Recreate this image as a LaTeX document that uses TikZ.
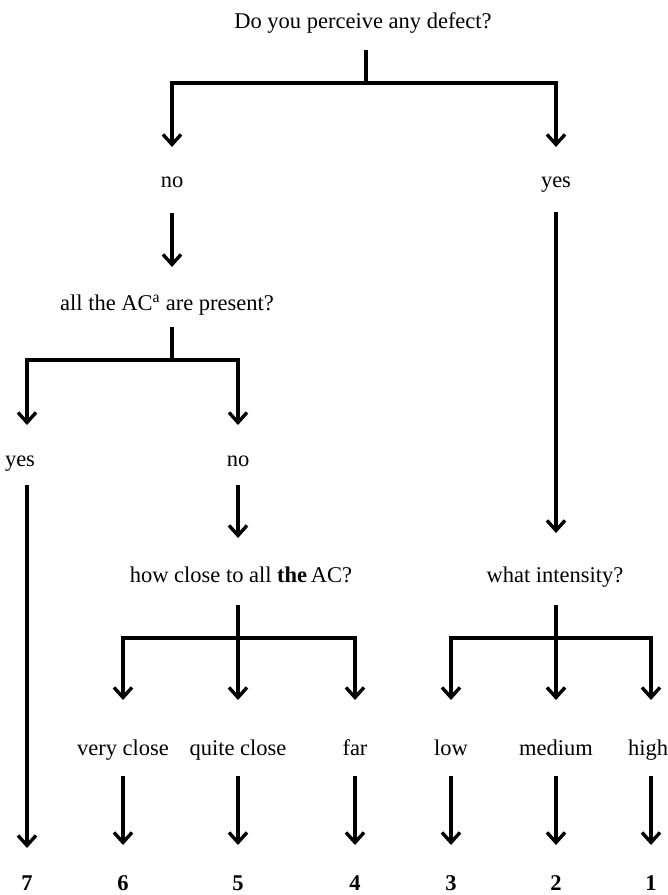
\documentclass[tikz,border=0pt]{standalone}
\usepackage{fontspec}
\setmainfont{Liberation Serif}
\usetikzlibrary{arrows.meta}
\begin{document}
\begin{tikzpicture}[x=1pt,y=-1pt,
  lbl/.style={font=\fontsize{22.5}{26}\selectfont, anchor=base, inner sep=0pt},
  num/.style={font=\fontsize{22.5}{26}\selectfont\bfseries, anchor=base, inner sep=0pt},
  conn/.style={line width=3.4pt, line join=miter},
  arr/.style={conn, -{Straight Barb[length=10pt,width=18pt,line width=3.4pt]}}]
\useasboundingbox (0,0) rectangle (668,895);

% ---- text nodes
\node[lbl] (q1) at (363,28) {Do you perceive any defect?};
\node[lbl] (no1) at (172,187) {no};
\node[lbl] (yes1) at (556,187) {yes};
\node[lbl] (q2) at (167,310) {all the AC\textsuperscript{a} are present?};
\node[lbl] (yes2) at (20,466) {yes};
\node[lbl] (no2) at (238,466) {no};
\node[lbl] (q3) at (241,582) {how close to all \textbf{the}\,AC?};
\node[lbl] (q4) at (555,582) {what intensity?};
\node[lbl] (vc) at (123,755) {very close};
\node[lbl] (qc) at (238,755) {quite close};
\node[lbl] (far) at (355,755) {far};
\node[lbl] (low) at (451,755) {low};
\node[lbl] (med) at (556,755) {medium};
\node[lbl] (high) at (648,755) {high};
\node[num] (n7) at (27,890) {7};
\node[num] (n6) at (123,890) {6};
\node[num] (n5) at (238,890) {5};
\node[num] (n4) at (355,890) {4};
\node[num] (n3) at (451,890) {3};
\node[num] (n2) at (556,890) {2};
\node[num] (n1) at (651,890) {1};

% ---- connector points
\coordinate (q1s) at (366,50);   \coordinate (q1j) at (366,83);
\coordinate (no1t) at (172,147); \coordinate (yes1t) at (556,147);
\coordinate (no1b) at (172,213); \coordinate (q2t) at (172,267);
\coordinate (q2s) at (172,327);  \coordinate (q2j) at (172,360);
\coordinate (yes2t) at (27,425); \coordinate (no2t) at (238,425);
\coordinate (yes2b) at (27,485); \coordinate (n7t) at (27,848);
\coordinate (no2b) at (238,485); \coordinate (q3t) at (238,538);
\coordinate (yes1b) at (556,212); \coordinate (q4t) at (556,533);
\coordinate (q3s) at (238,605);  \coordinate (q3j) at (238,638);
\coordinate (q4s) at (556,605);  \coordinate (q4j) at (556,638);
\coordinate (vct) at (123,700);  \coordinate (qct) at (238,700);  \coordinate (fart) at (355,700);
\coordinate (lowt) at (451,700); \coordinate (medt) at (556,700); \coordinate (hight) at (651,700);
\coordinate (vcb) at (123,776);  \coordinate (n6t) at (123,845);
\coordinate (qcb) at (238,776);  \coordinate (n5t) at (238,845);
\coordinate (farb) at (355,776); \coordinate (n4t) at (355,845);
\coordinate (lowb) at (451,776); \coordinate (n3t) at (451,845);
\coordinate (medb) at (556,776); \coordinate (n2t) at (556,845);
\coordinate (highb) at (651,776); \coordinate (n1t) at (651,845);

% ---- connectors
\draw[conn] (q1s) -- (q1j);
\draw[arr] (q1j) -| (no1t);
\draw[arr] (q1j) -| (yes1t);
\draw[arr] (no1b) -- (q2t);
\draw[conn] (q2s) -- (q2j);
\draw[arr] (q2j) -| (yes2t);
\draw[arr] (q2j) -| (no2t);
\draw[arr] (yes2b) -- (n7t);
\draw[arr] (no2b) -- (q3t);
\draw[arr] (yes1b) -- (q4t);
\draw[conn] (q3s) -- (q3j);
\draw[arr] (q3j) -| (vct);
\draw[arr] (q3j) -- (qct);
\draw[arr] (q3j) -| (fart);
\draw[conn] (q4s) -- (q4j);
\draw[arr] (q4j) -| (lowt);
\draw[arr] (q4j) -- (medt);
\draw[arr] (q4j) -| (hight);
\draw[arr] (vcb) -- (n6t);
\draw[arr] (qcb) -- (n5t);
\draw[arr] (farb) -- (n4t);
\draw[arr] (lowb) -- (n3t);
\draw[arr] (medb) -- (n2t);
\draw[arr] (highb) -- (n1t);
\end{tikzpicture}
\end{document}
